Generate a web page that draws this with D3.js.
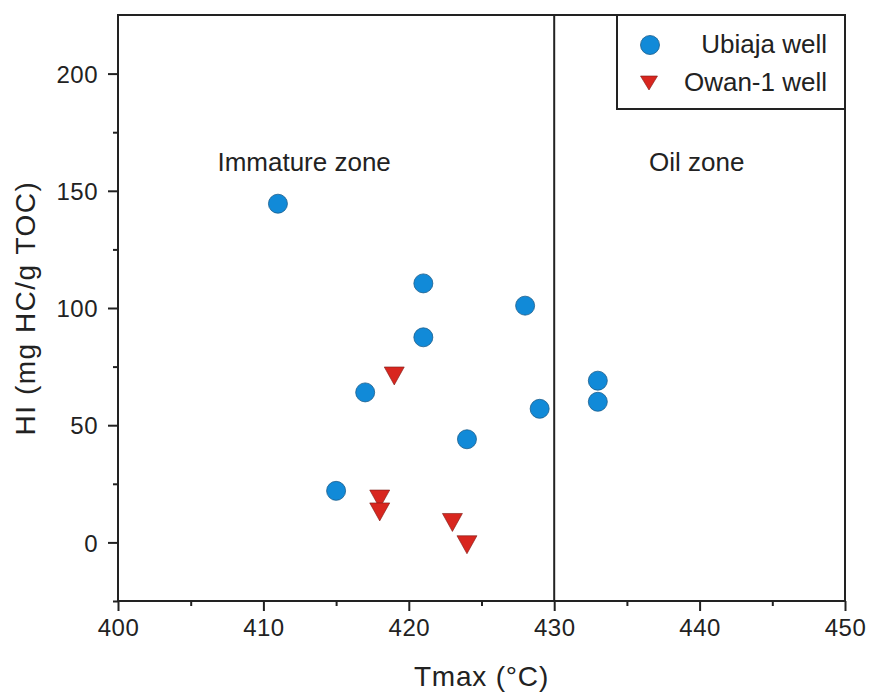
<!DOCTYPE html>
<html>
<head>
<meta charset="utf-8">
<script src="https://cdn.jsdelivr.net/npm/d3@7"></script>
<style>
  html, body { margin: 0; padding: 0; background: #fff; }
  svg { display: block; font-family: "Liberation Sans", Arial, Helvetica, sans-serif; }
</style>
</head>
<body>
<svg id="chart" width="870" height="692"></svg>
<script>
// Tmax vs HI for the two wells
const ubiajaTmax = [411, 421, 421, 428, 417, 424, 429, 433, 433, 415];
const ubiajaHI   = [144.5, 110.5, 87.5, 101, 64, 44, 57, 69, 60, 22];
const owanTmax   = [419, 418, 418, 423, 424];
const owanHI     = [71, 18.5, 13, 8.5, -1];

const xTicks = [400, 410, 420, 430, 440, 450];
const xMinorTicks = [405, 415, 425, 435, 445];
const yTicks = [0, 50, 100, 150, 200];
const yMinorTicks = [-25, 25, 75, 125, 175];
const seriesNames = ["Ubiaja well", "Owan-1 well"];
const zoneLabels = ["Immature zone", "Oil zone"];
const oilBoundary = 430;

const W = 870, H = 692;
const margin = { left: 118, right: 25, top: 15, bottom: 91 };
const iw = W - margin.left - margin.right;
const ih = H - margin.top - margin.bottom;

const blue = "#118ad8", blueStroke = "#1b5d8c";
const red = "#d8261f", redStroke = "#7a1a14";
const ink = "#222";

const svg = d3.select("#chart");
const g = svg.append("g").attr("transform", `translate(${margin.left},${margin.top})`);

const x = d3.scaleLinear().domain([400, 450]).range([0, iw]);
const y = d3.scaleLinear().domain([-25, 225]).range([ih, 0]);

// bottom axis: major + minor ticks
const xAxis = g.append("g").attr("transform", `translate(0,${ih})`)
  .call(d3.axisBottom(x).tickValues(xTicks).tickSize(10).tickPadding(8).tickFormat(d3.format("d")));
const xMinor = g.append("g").attr("transform", `translate(0,${ih})`)
  .call(d3.axisBottom(x).tickValues(xMinorTicks).tickSize(5).tickFormat(""));

const yAxis = g.append("g")
  .call(d3.axisLeft(y).tickValues(yTicks).tickSize(10).tickPadding(10).tickFormat(d3.format("d")));
const yMinor = g.append("g")
  .call(d3.axisLeft(y).tickValues(yMinorTicks).tickSize(5).tickFormat(""));

[xAxis, xMinor, yAxis, yMinor].forEach(a => {
  a.select(".domain").remove();
  a.selectAll(".tick line").attr("stroke", ink).attr("stroke-width", 2);
  a.selectAll(".tick text").attr("fill", ink).attr("font-size", 24)
    .attr("font-family", "Liberation Sans, Arial, sans-serif").style("letter-spacing", "0.5px");
});
yAxis.selectAll(".tick text").attr("dy", "0.36em");

// plot frame
g.append("rect").attr("x", 0).attr("y", 0).attr("width", iw).attr("height", ih)
  .attr("fill", "none").attr("stroke", ink).attr("stroke-width", 2);

// zone boundary
g.append("line")
  .attr("x1", x(oilBoundary)).attr("x2", x(oilBoundary))
  .attr("y1", 0).attr("y2", ih)
  .attr("stroke", ink).attr("stroke-width", 2);

// zone labels
g.append("text").attr("x", x(412.8)).attr("y", y(158.4)).attr("text-anchor", "middle")
  .attr("font-size", 26).attr("fill", ink).text(zoneLabels[0]);
g.append("text").attr("x", x(439.8)).attr("y", y(158.4)).attr("text-anchor", "middle")
  .attr("font-size", 26).attr("fill", ink).text(zoneLabels[1]);

// markers
const triW = 20, triH = 18;
const triPath = (w, h) => `M${-w/2},${-h/2}L${w/2},${-h/2}L0,${h/2}Z`;

g.append("g").selectAll("circle")
  .data(ubiajaTmax.map((t, i) => ({ t, hi: ubiajaHI[i] })))
  .join("circle")
  .attr("cx", d => x(d.t)).attr("cy", d => y(d.hi)).attr("r", 9.5)
  .attr("fill", blue).attr("stroke", blueStroke).attr("stroke-width", 0.8);

g.append("g").selectAll("path")
  .data(owanTmax.map((t, i) => ({ t, hi: owanHI[i] })))
  .join("path")
  .attr("transform", d => `translate(${x(d.t)},${y(d.hi)})`)
  .attr("d", triPath(triW, triH))
  .attr("fill", red).attr("stroke", redStroke).attr("stroke-width", 0.6);

// legend
const legW = 228, legH = 94;
const leg = g.append("g").attr("transform", `translate(${iw - legW},0)`);
leg.append("rect").attr("width", legW).attr("height", legH)
  .attr("fill", "#fff").attr("stroke", ink).attr("stroke-width", 2);
leg.append("circle").attr("cx", 33).attr("cy", 30).attr("r", 9.5)
  .attr("fill", blue).attr("stroke", blueStroke).attr("stroke-width", 0.8);
leg.append("path").attr("transform", "translate(32,68)").attr("d", triPath(17, 14))
  .attr("fill", red).attr("stroke", redStroke).attr("stroke-width", 0.6);
leg.append("text").attr("x", 210).attr("y", 38).attr("text-anchor", "end")
  .attr("font-size", 26).attr("fill", ink).text(seriesNames[0]);
leg.append("text").attr("x", 210).attr("y", 76).attr("text-anchor", "end")
  .attr("font-size", 26).attr("fill", ink).text(seriesNames[1]);

// axis titles
svg.append("text")
  .attr("x", margin.left + iw / 2).attr("y", 686)
  .attr("text-anchor", "middle").attr("font-size", 28).attr("fill", ink)
  .style("letter-spacing", "0.8px")
  .text("Tmax (°C)");
svg.append("text")
  .attr("transform", `translate(35,${margin.top + ih / 2}) rotate(-90)`)
  .attr("text-anchor", "middle").attr("font-size", 28).attr("fill", ink)
  .style("letter-spacing", "1.5px")
  .text("HI (mg HC/g TOC)");
</script>
</body>
</html>
